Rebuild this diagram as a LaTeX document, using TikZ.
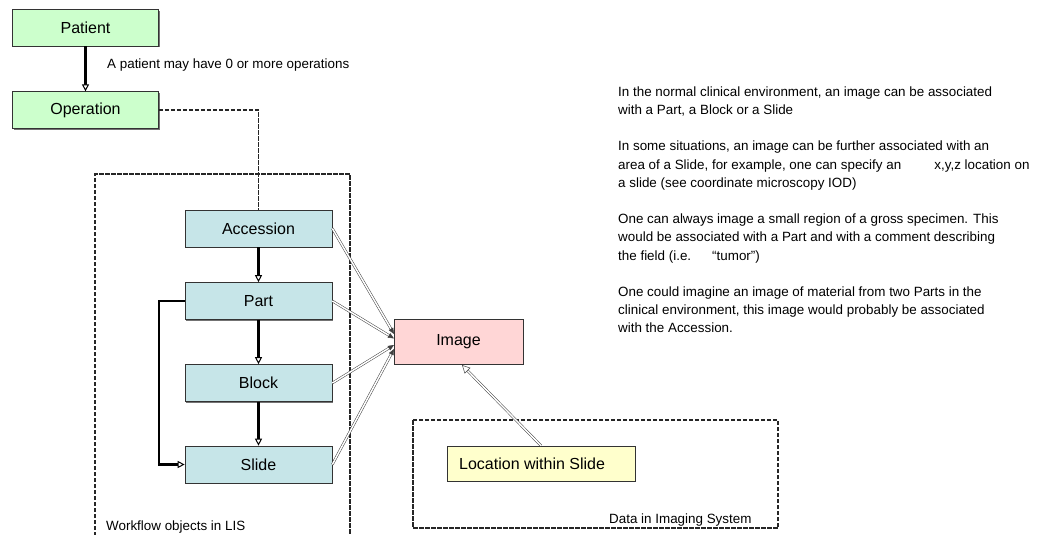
\documentclass[tikz,border=0pt]{standalone}
\usepackage{fontspec}
\setmainfont{Liberation Sans}
\usetikzlibrary{arrows.meta,shadows}
\definecolor{pgreen}{RGB}{204,255,204}
\definecolor{pcyan}{RGB}{198,229,232}
\definecolor{ppink}{RGB}{255,214,214}
\definecolor{pyellow}{RGB}{255,255,204}
\begin{document}
\begin{tikzpicture}[x=1pt,y=-1pt,
  box/.style={draw=black!80, line width=0.7pt, inner sep=0pt,
    font=\fontsize{16}{19}\selectfont,
    drop shadow={shadow xshift=1.2pt, shadow yshift=-1.2pt, fill=black!55, opacity=1}},
  greenbox/.style={box, fill=pgreen, minimum width=146pt, minimum height=36.6pt},
  cyanbox/.style={box, fill=pcyan, minimum width=147pt, minimum height=37pt},
  thickarrow/.style={line width=2.2pt, draw=black,
    -{Triangle[open, length=7pt, width=7pt, line width=1pt, fill=white]}},
  dashline/.style={draw=black!85, line width=1.4pt, dash pattern=on 4.5pt off 1.5pt},
  dbl/.style={draw=black!75, line width=0.5pt, double=white, double distance=1.5pt},
  smalltext/.style={font=\fontsize{13.4}{18.2}\selectfont, inner sep=0pt}
]
\useasboundingbox (0,0) rectangle (1041,535);

% region boxes
\draw[dashline] (95,536) -- (95,174) -- (350,174) -- (350,536);
\draw[dashline] (413,420) rectangle (778,528);

% nodes
\node[greenbox] (patient) at (85.5,27.7) {Patient};
\node[greenbox] (operation) at (85.5,110) {Operation};
\node[cyanbox] (accession) at (258.5,228.5) {Accession};
\node[cyanbox] (part) at (258.5,301) {Part};
\node[cyanbox] (block) at (258.5,383) {Block};
\node[cyanbox] (slide) at (258.5,464.5) {Slide};
\node[box, fill=ppink, minimum width=129pt, minimum height=45pt] (image) at (458.5,341.5) {Image};
\node[box, fill=pyellow, minimum width=188pt, minimum height=35pt] (location) at (541,463.5) {};
\node[anchor=west, inner sep=0pt, font=\fontsize{16}{19}\selectfont] (loctext) at (459,463.5) {Location within Slide};

% labels
\node[smalltext, anchor=base west] (plabel) at (107,69) {A patient may have 0 or more operations};
\node[smalltext, anchor=base west] (lislabel) at (106,530) {Workflow objects in LIS};
\node[smalltext, anchor=base west] (imglabel) at (609,523) {Data in Imaging System};
\node[smalltext, anchor=north west, align=left] (notes) at (618,86.4) {In the normal clinical environment, an image can be associated\\
with a Part, a Block or a Slide\\[18.2pt]
In some situations, an image can be further associated with an\\
area of a Slide, for example, one can specify an \hspace{2.2em}x,y,z location on\\
a slide (see coordinate microscopy IOD)\\[18.2pt]
One can always image a small region of a gross specimen. This\\
would be associated with a Part and with a comment describing\\
the field (i.e. \hspace{1.2em}\char"201C tumor\char"201D)\\[18.2pt]
One could imagine an image of material from two Parts in the\\
clinical environment, this image would probably be associated\\
with the Accession.};

% connector end points
\coordinate (ia) at (394,334);
\coordinate (ip) at (394,338.5);
\coordinate (ib) at (394,345);
\coordinate (is) at (394,349);
\coordinate (il) at (462,365);

% connectors
\draw[thickarrow] (patient) -- (operation);
\draw[dashline] (operation.east) -| (accession.north);
\draw[thickarrow] (accession) -- (part);
\draw[thickarrow] (part) -- (block);
\draw[thickarrow] (block) -- (slide);
\draw[thickarrow] (part.west) -- ++(-26,0) |- (slide.west);

\draw[dbl, -{Triangle[length=6pt, width=5pt]}] (accession.east) -- (ia);
\draw[dbl, -{Triangle[length=6pt, width=5pt]}] (part.east) -- (ip);
\draw[dbl, -{Triangle[length=6pt, width=5pt]}] (block.east) -- (ib);
\draw[dbl, -{Triangle[length=6pt, width=5pt]}] (slide.east) -- (is);
\draw[dbl, -{Triangle[open, length=8pt, width=8pt, fill=white]}] (location.north) -- (il);
\end{tikzpicture}
\end{document}
